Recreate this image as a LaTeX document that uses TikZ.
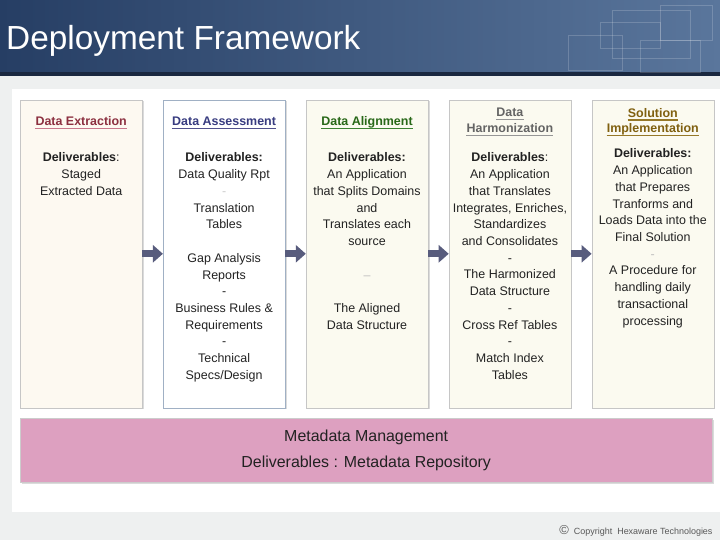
\documentclass[tikz,border=0pt]{standalone}
\usepackage{fontspec}
\setmainfont{Liberation Sans}
\usepackage{xcolor}
\usepackage{tikz}
\usetikzlibrary{arrows.meta,positioning,shadows}

\definecolor{bandleft}{RGB}{38,62,100}
\definecolor{bandright}{RGB}{90,118,156}
\definecolor{bandline}{RGB}{26,40,64}
\definecolor{pagegray}{RGB}{238,240,240}
\definecolor{creamA}{RGB}{253,249,241}
\definecolor{creamB}{RGB}{251,250,240}
\definecolor{blueedge}{RGB}{160,176,196}
\definecolor{extcol}{RGB}{140,48,64}
\definecolor{extline}{RGB}{200,120,140}
\definecolor{asscol}{RGB}{56,60,128}
\definecolor{assline}{RGB}{80,80,140}
\definecolor{alicol}{RGB}{40,104,24}
\definecolor{aliline}{RGB}{60,130,50}
\definecolor{harcol}{RGB}{100,100,100}
\definecolor{harline}{RGB}{150,150,150}
\definecolor{solcol}{RGB}{128,96,16}
\definecolor{solline}{RGB}{150,120,40}
\definecolor{metapink}{RGB}{221,160,192}
\definecolor{arrowcol}{RGB}{88,92,125}
\definecolor{bodytext}{RGB}{34,34,34}

\begin{document}
\begin{tikzpicture}[
    x=1bp, y=1bp,
    node distance=20.5bp,
    box/.style={rectangle, draw=gray!45, fill=creamB, minimum width=122bp, minimum height=308bp, inner sep=0pt,
                drop shadow={shadow xshift=1.5bp, shadow yshift=-1.5bp, fill=gray!55}},
    hd/.style={inner sep=0pt, font={\fontsize{12.5}{15}\selectfont\bfseries}},
    body/.style={inner sep=0pt, align=center, text=bodytext, font={\fontsize{12.5}{16.8}\selectfont}},
    meta/.style={rectangle, draw=gray!40, fill=metapink, minimum width=692bp, minimum height=64bp, align=center,
                 text=bodytext, font={\fontsize{16}{26}\selectfont},
                 drop shadow={shadow xshift=1.5bp, shadow yshift=-1.5bp, fill=gray!55}},
    arrow/.style={line width=7bp, arrowcol, -{Triangle[length=10bp, width=17bp]}}
]

% Page background and title band
\path[use as bounding box] (0,0) rectangle (720,540);
\fill[pagegray] (0,0) rectangle (720,464);
\shade[left color=bandleft, right color=bandright] (0,468) rectangle (720,540);
\fill[bandline] (0,464) rectangle (720,468);
\foreach \a/\b/\c/\d in {568/470/622/505, 600/492/660/518, 612/482/690/530, 660/500/712/535, 640/468/700/500}
    \draw[white, opacity=0.18, line width=0.8bp] (\a,\b) rectangle (\c,\d);
\fill[white] (12,28) rectangle (720,451);

\node[anchor=base west, inner sep=0pt, text=white, font={\fontsize{33.5}{33.5}\selectfont}] (title) at (6,490) {Deployment Framework};

% Stage boxes
\node[box, fill=creamA, anchor=south west] (extract) at (20,132) {};
\node[box, fill=white, draw=blueedge, right=of extract] (assess) {};
\node[box, right=of assess] (align) {};
\node[box, right=of align] (harmon) {};
\node[box, right=of harmon] (solution) {};

% Stage headings
\node[hd, text=extcol, below=17bp of extract.north] (extractHd) {Data Extraction};
\node[hd, text=asscol, below=17bp of assess.north] (assessHd) {Data Assessment};
\node[hd, text=alicol, below=17bp of align.north] (alignHd) {Data Alignment};
\node[hd, text=harcol, below=8.5bp of harmon.north] (harmonHdA) {Data};
\node[hd, text=harcol, below=6bp of harmonHdA] (harmonHdB) {Harmonization};
\node[hd, text=solcol, below=8.5bp of solution.north] (solutionHdA) {Solution};
\node[hd, text=solcol, below=6bp of solutionHdA] (solutionHdB) {Implementation};

\foreach \h/\c in {extractHd/extline, assessHd/assline, alignHd/aliline, harmonHdA/harline,
                   harmonHdB/harline, solutionHdA/solline, solutionHdB/solline}
    \draw[\c, line width=1.3bp] ([yshift=-2.8bp]\h.base west) -- ([yshift=-2.8bp]\h.base east);

% Deliverables
\node[body, below=53bp of extract.north] (extractTxt) {\textbf{Deliverables}:\\Staged\\Extracted Data};
\node[body, below=53bp of assess.north] (assessTxt) {\textbf{Deliverables:}\\Data Quality Rpt\\\textcolor{gray!40}{-}\\Translation\\Tables\\[16.8bp]
    Gap Analysis\\Reports\\-\\Business Rules \&\\Requirements\\-\\Technical\\Specs/Design};
\node[body, below=53bp of align.north] (alignTxt) {\textbf{Deliverables:}\\An Application\\that Splits Domains\\and\\Translates each\\source\\[16.8bp]
    \textcolor{gray!50}{--}\\[16.8bp]The Aligned\\Data Structure};
\node[body, below=53bp of harmon.north] (harmonTxt) {\textbf{Deliverables}:\\An Application\\that Translates\\Integrates, Enriches,\\Standardizes\\and Consolidates\\-\\
    The Harmonized\\Data Structure\\-\\Cross Ref Tables\\-\\Match Index\\Tables};
\node[body, below=49bp of solution.north] (solutionTxt) {\textbf{Deliverables:}\\An Application\\that Prepares\\Tranforms and\\Loads Data into the\\Final Solution\\
    \textcolor{gray!50}{-}\\A Procedure for\\handling daily\\transactional\\processing};

% Metadata bar
\node[meta, below right=10bp and 0bp of extract.south west] (metadata) {Metadata Management\\Deliverables : Metadata Repository};

% Arrows between stages
\draw[arrow] (extract) -- (assess);
\draw[arrow] (assess) -- (align);
\draw[arrow] (align) -- (harmon);
\draw[arrow] (harmon) -- (solution);

\node[anchor=base east, text=gray!70!black, font={\fontsize{9}{10}\selectfont}] (copyright) at (716,5)
    {{\fontsize{13}{13}\selectfont\textcopyright}\ \ Copyright\ \ Hexaware Technologies};

\end{tikzpicture}
\end{document}
